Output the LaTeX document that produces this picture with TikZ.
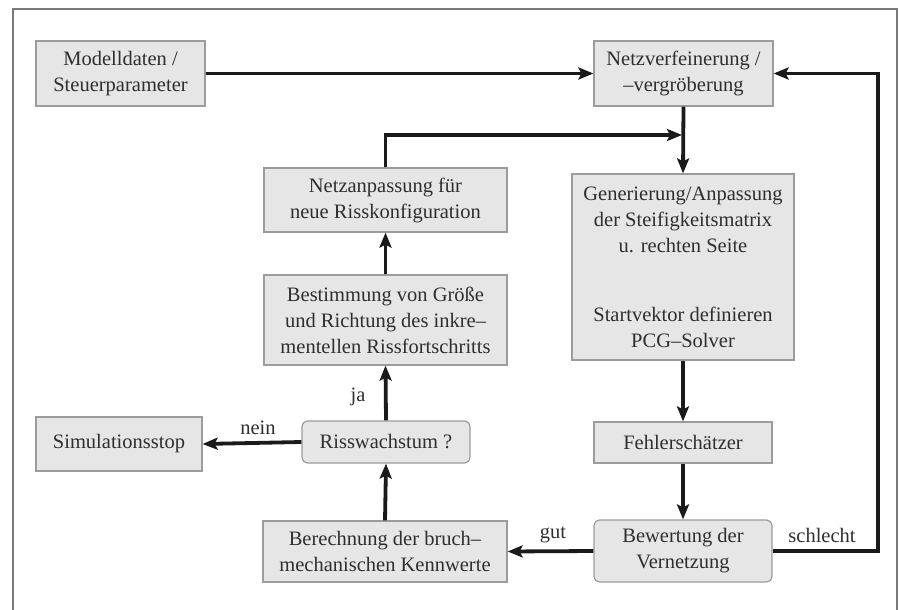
\documentclass[tikz,border=0pt]{standalone}
\usepackage{fontspec}
\setmainfont{Liberation Serif}
\usetikzlibrary{arrows.meta}
\definecolor{boxfill}{HTML}{E6E6E6}
\definecolor{boxline}{HTML}{9C9C9C}
\definecolor{txt}{HTML}{2E2E2E}
\definecolor{frame}{HTML}{7A7A7A}
\definecolor{arr}{HTML}{1A1A1A}
\begin{document}
\begin{tikzpicture}[x=1pt,y=-1pt,
  box/.style={draw=boxline,fill=boxfill,line width=1.2pt,text=txt,align=center,
    inner sep=0pt,font=\fontsize{20.5}{26}\selectfont},
  rbox/.style={box,rounded corners=6pt},
  arrowline/.style={draw=arr,line width=3.8pt,-{Stealth[length=15pt,width=12pt,inset=3pt]}},
  plainline/.style={draw=arr,line width=3.8pt},
  lbl/.style={text=txt,font=\fontsize{20.5}{26}\selectfont,inner sep=0pt}]
\useasboundingbox (0,0) rectangle (899,610);
\fill[white] (0,0) rectangle (899,610);
\draw[frame,line width=1.6pt] (13,610) -- (13,9) -- (897,9) -- (897,610);

\node[box,minimum width=169pt,minimum height=65pt] (mod) at (120.5,73.5) {Modelldaten /\\Steuerparameter};
\node[box,minimum width=179pt,minimum height=65pt] (netz) at (683.5,73.5) {Netzverfeinerung /\\--vergröberung};
\node[box,minimum width=243pt,minimum height=64pt] (anp) at (385.5,200) {Netzanpassung für\\neue Risskonfiguration};
\node[box,minimum width=243pt,minimum height=90pt] (best) at (385.5,320) {Bestimmung von Größe\\und Richtung des inkre--\\mentellen Rissfortschritts};
\node[box,minimum width=222pt,minimum height=186pt] (gen) at (683,267) {Generierung/Anpassung\\der Steifigkeitsmatrix\\u. rechten Seite\\[43pt]Startvektor definieren\\PCG--Solver};
\node[rbox,minimum width=168pt,minimum height=42pt] (riss) at (386,442) {Risswachstum ?};
\node[box,minimum width=166pt,minimum height=54pt] (sim) at (119,444) {Simulationsstop};
\node[box,minimum width=244pt,minimum height=61pt] (ber) at (385,551.5) {Berechnung der bruch--\\mechanischen Kennwerte};
\node[box,minimum width=178pt,minimum height=41pt] (fehl) at (683,442.5) {Fehlerschätzer};
\node[rbox,minimum width=178pt,minimum height=62pt] (bew) at (683,551) {Bewertung der\\Vernetzung};

\coordinate (join) at (683,135);
\coordinate (rc1) at (878,551);
\coordinate (rc2) at (878,73.5);

\draw[arrowline] (mod.east) -- (netz.west);
\draw[arrowline] (netz.south) -- (gen.north);
\draw[arrowline] (anp.north) |- ([xshift=-1pt]join);
\draw[arrowline] (best.north) -- (anp.south);
\draw[arrowline] (riss.north) -- (best.south);
\draw[arrowline] (riss.west) -- (sim.east);
\draw[arrowline] (ber.north) -- (riss.south);
\draw[arrowline] (gen.south) -- (fehl.north);
\draw[arrowline] (fehl.south) -- (bew.north);
\draw[arrowline] (bew.west) -- (ber.east);
\draw[arrowline,rounded corners=0pt] (bew.east) -- (rc1) -- (rc2) -- (netz.east);

\node[lbl] (ja) at (358,397) {ja};
\node[lbl] (nein) at (258,428) {nein};
\node[lbl] (gut) at (553,535) {gut};
\node[lbl] (schlecht) at (822,535) {schlecht};
\end{tikzpicture}
\end{document}
